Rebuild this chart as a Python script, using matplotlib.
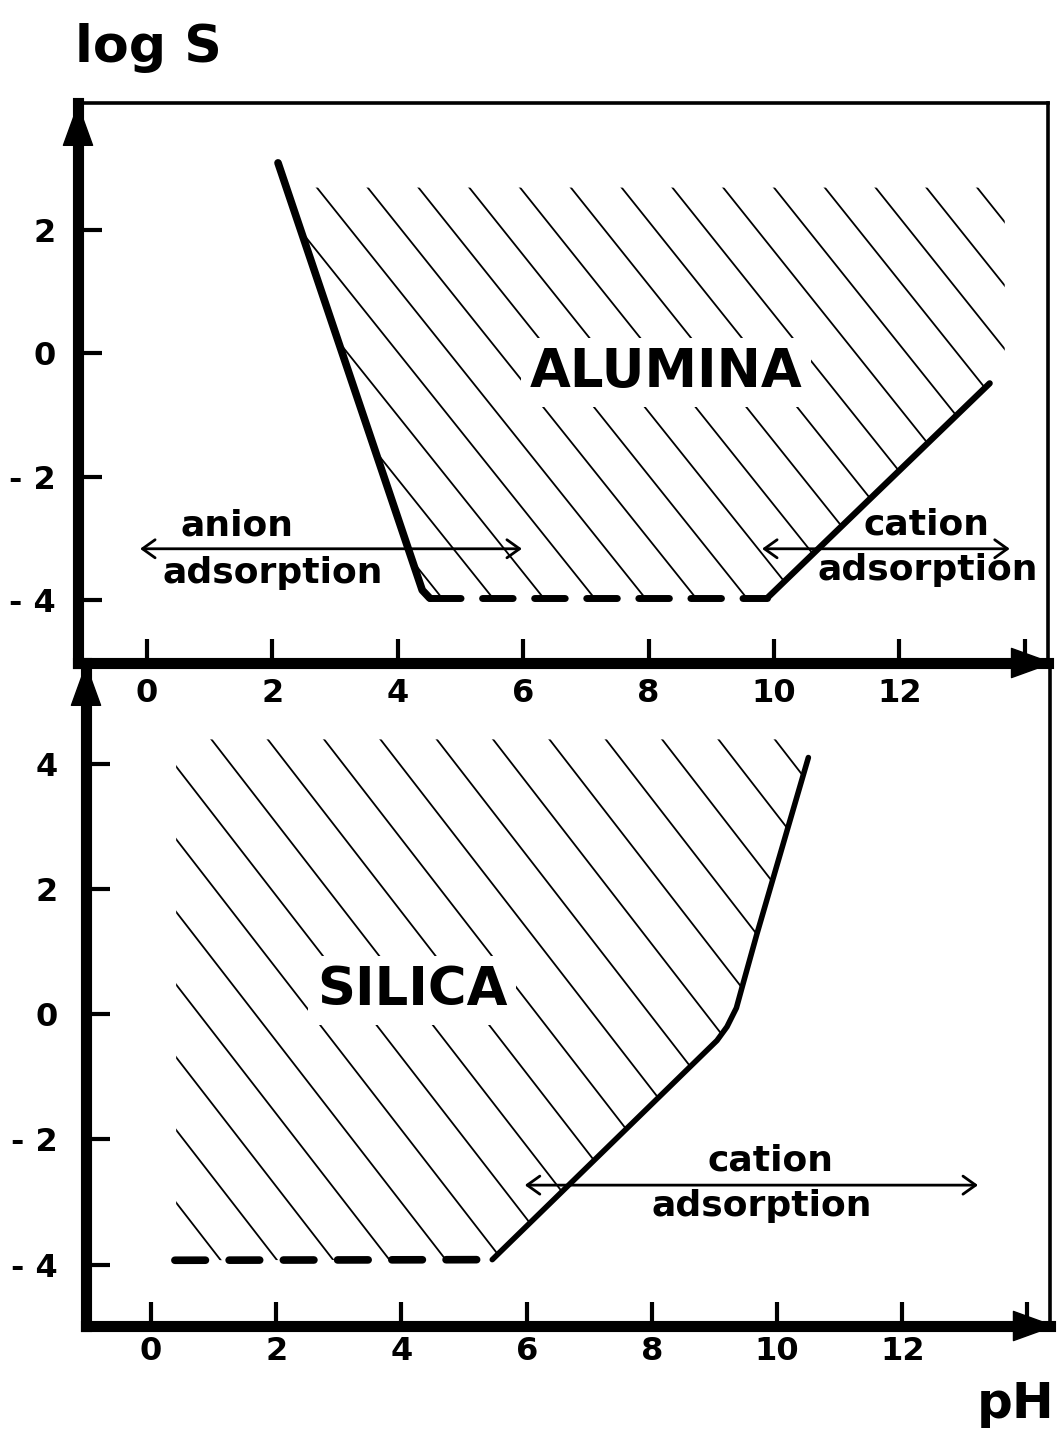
import numpy as np
import matplotlib
matplotlib.use('Agg')
import matplotlib.pyplot as plt
from matplotlib.patches import Polygon

# ---------------- data ----------------
x_ticks = [0, 2, 4, 6, 8, 10, 12, 14]
x_tick_labels = ['0', '2', '4', '6', '8', '10', '12', '']
top_y_ticks = [2, 0, -2, -4]
top_y_tick_labels = ['2', '0', '- 2', '- 4']
bot_y_ticks = [4, 2, 0, -2, -4]
bot_y_tick_labels = ['4', '2', '0', '- 2', '- 4']

# Alumina (top panel)
alumina_anion_ph = [2.09, 4.39, 4.51]
alumina_anion_logs = [3.08, -3.84, -3.97]
alumina_floor_ph = [4.51, 9.89]
alumina_floor_logs = [-3.97, -3.97]
alumina_cation_ph = [9.89, 13.44]
alumina_cation_logs = [-3.97, -0.49]
alumina_hatch_top = 2.68
alumina_hatch_right = 13.68

# Silica (bottom panel)
silica_floor_ph = [0.38, 5.45]
silica_floor_logs = [-3.93, -3.92]
silica_cation_ph = [5.45, 9.04, 9.2, 9.35, 9.46, 9.68, 10.5]
silica_cation_logs = [-3.92, -0.42, -0.2, 0.1, 0.5, 1.29, 4.1]
silica_hatch_top = 4.39
silica_hatch_left = 0.40

W, H = 1063, 1432
BOLD = dict(family='DejaVu Sans', fontweight='bold')
TICKFONT = dict(family='DejaVu Sans', weight='bold', size=23)

fig = plt.figure(figsize=(W / 100, H / 100), dpi=100)
ax_top = fig.add_axes([78 / W, 1 - 663 / H, 970 / W, 560 / H])
ax_bot = fig.add_axes([86 / W, 1 - 1326 / H, 964 / W, 663 / H])
ax_top.set_xlim(-1.10, 14.37)
ax_top.set_ylim(-5.02, 4.05)
ax_bot.set_xlim(-1.04, 14.36)
ax_bot.set_ylim(-4.98, 5.61)


def style_axes(ax, yticks, ylabels, ypad, xpad, show_top):
    for s in ('left', 'bottom'):
        ax.spines[s].set_linewidth(8)
    ax.spines['right'].set_linewidth(2.6)
    ax.spines['top'].set_linewidth(2.6)
    ax.spines['top'].set_visible(show_top)
    ax.set_xticks(x_ticks)
    ax.set_xticklabels(x_tick_labels, fontdict=TICKFONT)
    ax.set_yticks(yticks)
    ax.set_yticklabels(ylabels, fontdict=TICKFONT)
    ax.tick_params(axis='both', direction='in', length=17, width=3,
                   right=False, top=False)
    ax.tick_params(axis='x', pad=xpad)
    ax.tick_params(axis='y', pad=ypad)
    ax.patch.set_alpha(0)
    # axis arrowheads
    head = dict(arrowstyle='-|>,head_length=0.58,head_width=0.21',
                mutation_scale=50, lw=1, color='black',
                shrinkA=0, shrinkB=0)
    ax.annotate('', xy=(0, 1.0), xytext=(0, 0.9), xycoords='axes fraction',
                arrowprops=head)
    ax.annotate('', xy=(1.006, 0), xytext=(0.95, 0), xycoords='axes fraction',
                arrowprops=head)


style_axes(ax_top, top_y_ticks, top_y_tick_labels, ypad=16, xpad=11, show_top=True)
style_axes(ax_bot, bot_y_ticks, bot_y_tick_labels, ypad=20, xpad=7, show_top=False)


def hatch(ax, verts, anchor_x, anchor_y, spacing, slope, kmin, kmax):
    clip = Polygon(verts, closed=True, facecolor='none', edgecolor='none')
    ax.add_patch(clip)
    ys = np.array([anchor_y - 1.0, anchor_y + 10.0])
    for k in range(kmin, kmax):
        x0 = anchor_x + spacing * k
        xs = x0 - (ys - anchor_y) / slope
        ln, = ax.plot(xs, ys, color='black', lw=1.3, solid_capstyle='butt')
        ln.set_clip_path(clip)


# ---------- top panel: ALUMINA ----------
x_at_top = np.interp(alumina_hatch_top, alumina_anion_logs[::-1], alumina_anion_ph[::-1])
top_verts = ([(alumina_anion_ph[-1], alumina_anion_logs[-1]),
              (alumina_anion_ph[1], alumina_anion_logs[1]),
              (x_at_top, alumina_hatch_top),
              (alumina_hatch_right, alumina_hatch_top),
              (alumina_hatch_right, alumina_cation_logs[-1] + 0.12),
              (alumina_cation_ph[-1], alumina_cation_logs[-1]),
              (alumina_cation_ph[0], alumina_cation_logs[0])])
hatch(ax_top, top_verts, 7.97, -4.0, 0.81, 1.27, -6, 14)

ax_top.plot(alumina_anion_ph, alumina_anion_logs, color='black', lw=5.5,
            solid_capstyle='round', solid_joinstyle='round')
ax_top.plot(alumina_floor_ph, alumina_floor_logs, color='black', lw=5.0,
            dashes=(4.4, 3.1), dash_capstyle='round')
ax_top.plot(alumina_cation_ph, alumina_cation_logs, color='black', lw=4.5,
            solid_capstyle='round')

ax_top.text(8.28, -0.31, 'ALUMINA', ha='center', va='center', fontsize=38,
            bbox=dict(facecolor='white', edgecolor='none', pad=6), **BOLD)

arrow_small = dict(arrowstyle='<->,head_length=0.7,head_width=0.5',
                   mutation_scale=13, lw=2.0, color='black',
                   shrinkA=0, shrinkB=0)
ax_top.annotate('', xy=(-0.11, -3.17), xytext=(5.98, -3.17), arrowprops=arrow_small)
ax_top.text(1.44, -2.80, 'anion', ha='center', va='center', fontsize=26, **BOLD)
ax_top.text(2.0, -3.56, 'adsorption', ha='center', va='center', fontsize=26, **BOLD)

ax_top.annotate('', xy=(9.81, -3.17), xytext=(13.76, -3.17), arrowprops=arrow_small)
ax_top.text(12.44, -2.78, 'cation', ha='center', va='center', fontsize=26, **BOLD)
ax_top.text(12.45, -3.51, 'adsorption', ha='center', va='center', fontsize=26, **BOLD)

# ---------- bottom panel: SILICA ----------
x_top_end = silica_cation_ph[-1] + (silica_hatch_top - silica_cation_logs[-1]) * \
    (silica_cation_ph[-1] - silica_cation_ph[-2]) / (silica_cation_logs[-1] - silica_cation_logs[-2])
bot_verts = ([(silica_hatch_left, silica_floor_logs[0])]
             + list(zip(silica_cation_ph, silica_cation_logs))
             + [(x_top_end, silica_hatch_top),
                (silica_hatch_left, silica_hatch_top)])
hatch(ax_bot, bot_verts, 1.09, -3.9, 0.90, 1.29, -2, 20)

ax_bot.plot(silica_floor_ph, silica_floor_logs, color='black', lw=5.5,
            dashes=(4.0, 3.1), dash_capstyle='round')
ax_bot.plot(silica_cation_ph, silica_cation_logs, color='black', lw=4.0,
            solid_capstyle='round', solid_joinstyle='round')

ax_bot.text(4.17, 0.38, 'SILICA', ha='center', va='center', fontsize=38,
            bbox=dict(facecolor='white', edgecolor='none', pad=6), **BOLD)

ax_bot.annotate('', xy=(5.97, -2.73), xytext=(13.21, -2.73), arrowprops=arrow_small)
ax_bot.text(9.89, -2.33, 'cation', ha='center', va='center', fontsize=26, **BOLD)
ax_bot.text(9.76, -3.07, 'adsorption', ha='center', va='center', fontsize=26, **BOLD)

# ---------- axis titles ----------
fig.text(148 / W, 1 - 62 / H, 'log S', ha='center', va='baseline', fontsize=37.5, **BOLD)
fig.text(1016 / W, 1 - 1418 / H, 'pH', ha='center', va='baseline', fontsize=36, **BOLD)

fig.savefig('out.png', dpi=100, facecolor='white')
